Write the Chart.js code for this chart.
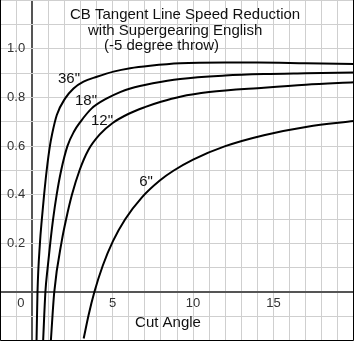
<!DOCTYPE html>
<html>
<head>
<meta charset="utf-8">
<script src="https://cdn.jsdelivr.net/npm/chart.js@4"></script>
<style>
  body { margin: 0; background: #fff; }
  canvas { display: block; }
</style>
</head>
<body>
<canvas id="chart" width="354" height="341"></canvas>
<script>
const angle36 = [0.27, 0.33, 0.48, 0.6, 0.74, 0.9, 1.1, 1.24, 1.53, 2.05, 2.57, 3.19, 4.02, 5.05, 6.09, 7.33, 9.2, 12, 14, 17, 20]
const speed36 = [-0.2, 0.0, 0.2, 0.3, 0.4, 0.5, 0.6, 0.65, 0.728, 0.796, 0.837, 0.865, 0.885, 0.906, 0.92, 0.93, 0.94, 0.943, 0.943, 0.94, 0.937]

const angle18 = [0.68, 0.82, 0.96, 1.12, 1.3, 1.52, 1.8, 2.19, 2.6, 3.0, 3.7, 4.64, 5.5, 6.1, 7.5, 9.2, 12, 14.4, 17, 20]
const speed18 = [-0.2, 0.0, 0.1, 0.2, 0.3, 0.4, 0.5, 0.6, 0.66, 0.7, 0.755, 0.796, 0.823, 0.837, 0.858, 0.876, 0.89, 0.896, 0.899, 0.902]

const angle12 = [1.16, 1.37, 1.85, 2.11, 2.47, 2.94, 3.5, 4.2, 5.0, 6.0, 7.0, 8.0, 9.2, 11, 14.4, 17, 20]
const speed12 = [-0.2, 0.0, 0.215, 0.3, 0.4, 0.5, 0.585, 0.648, 0.695, 0.733, 0.76, 0.782, 0.803, 0.822, 0.84, 0.852, 0.862]

const angle6 = [3.2, 3.5, 3.86, 4.39, 5.02, 5.78, 6.82, 7.95, 8.8, 10, 12, 14.4, 17.1, 20]
const speed6 = [-0.19, -0.095, 0.0, 0.11, 0.21, 0.3, 0.39, 0.46, 0.5, 0.545, 0.6, 0.645, 0.68, 0.703]

const yTickValues = [0.2, 0.4, 0.6, 0.8, 1.0]
const yTickLabels = ['0.2', '0.4', '0.6', '0.8', '1.0']
const xTickValues = [5, 10, 15]
const xTickLabels = ['5', '10', '15']

const titleLines = ['CB Tangent Line Speed Reduction', 'with Supergearing English', '(-5 degree throw)']

function series(xs, ys) {
    return xs.map((x, i) => ({ x: x, y: ys[i] }))
}

function curve(label, xs, ys) {
    return {
        label: label,
        data: series(xs, ys),
        borderColor: '#000',
        borderWidth: 2,
        pointRadius: 0,
        cubicInterpolationMode: 'monotone',
        fill: false,
    }
}

const isZero = v => Math.abs(v) < 1e-9

const textPlugin = {
    id: 'textPlugin',
    afterDraw(chart) {
        const ctx = chart.ctx
        const xs = chart.scales.x
        const ys = chart.scales.y
        ctx.save()

        ctx.fillStyle = '#333'
        ctx.font = '13px "Liberation Sans", Arial, sans-serif'
        ctx.textAlign = 'center'
        ctx.textBaseline = 'middle'
        yTickValues.forEach((v, i) => {
            ctx.fillText(yTickLabels[i], xs.getPixelForValue(-1), ys.getPixelForValue(v))
        })
        xTickValues.forEach((v, i) => {
            ctx.fillText(xTickLabels[i], xs.getPixelForValue(v), ys.getPixelForValue(-0.044))
        })
        ctx.fillText('0', xs.getPixelForValue(-0.7), ys.getPixelForValue(-0.044))

        ctx.fillStyle = '#111'
        ctx.font = '15px "Liberation Sans", Arial, sans-serif'
        ctx.textAlign = 'left'
        ctx.textBaseline = 'alphabetic'
        ctx.fillText(titleLines[0], 70, 19)
        ctx.fillText(titleLines[1], 88, 35)
        ctx.fillText(titleLines[2], 104, 50)

        ctx.textAlign = 'center'
        ctx.textBaseline = 'middle'
        ctx.fillText('Cut Angle', 168, 323)
        ctx.fillText('36"', 69, 79)
        ctx.fillText('18"', 86, 101)
        ctx.fillText('12"', 102, 121)
        ctx.fillText('6"', 146, 182)

        ctx.strokeStyle = '#000'
        ctx.lineWidth = 1
        ctx.beginPath()
        ctx.moveTo(0.5, 0)
        ctx.lineTo(0.5, chart.height - 0.5)
        ctx.lineTo(chart.width - 0.5, chart.height - 0.5)
        ctx.lineTo(chart.width - 0.5, 0)
        ctx.stroke()
        ctx.restore()
    }
}

new Chart(document.getElementById('chart').getContext('2d'), {
    type: 'line',
    data: {
        datasets: [
            curve('36"', angle36, speed36),
            curve('18"', angle18, speed18),
            curve('12"', angle12, speed12),
            curve('6"', angle6, speed6),
        ]
    },
    options: {
        responsive: false,
        animation: false,
        layout: { padding: 0 },
        plugins: { legend: { display: false }, tooltip: { enabled: false } },
        scales: {
            x: {
                type: 'linear',
                min: -2,
                max: 20,
                ticks: { display: false, stepSize: 1 },
                border: { display: false },
                grid: {
                    drawTicks: false,
                    color: c => isZero(c.tick.value) ? '#555' : '#cfcfcf',
                    lineWidth: c => isZero(c.tick.value) ? 2 : 1,
                }
            },
            y: {
                min: -0.2,
                max: 1.2,
                ticks: { display: false, stepSize: 0.1 },
                border: { display: false },
                grid: {
                    drawTicks: false,
                    color: c => isZero(c.tick.value) ? '#555' : '#cfcfcf',
                    lineWidth: c => isZero(c.tick.value) ? 2 : 1,
                }
            }
        }
    },
    plugins: [textPlugin]
})
</script>
</body>
</html>
